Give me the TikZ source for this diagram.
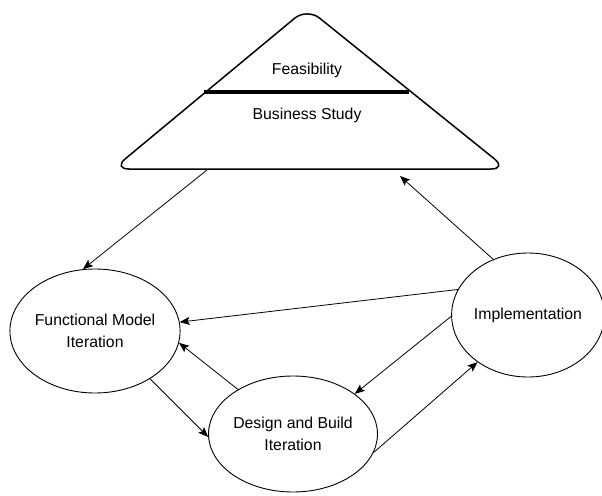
\documentclass[tikz,border=0pt]{standalone}
\usepackage{fontspec}
\setmainfont{Liberation Sans}
\usetikzlibrary{shapes.geometric,arrows.meta}
\begin{document}
\begin{tikzpicture}[x=1pt,y=-1pt,
  phase/.style={draw=black,line width=0.9pt,ellipse,inner sep=0pt,align=center,font=\fontsize{15.8}{22.5}\selectfont},
  flow/.style={draw=black,line width=0.8pt,-{Stealth[length=10pt,width=8pt,inset=2pt]}},
  lbl/.style={font=\fontsize{15.8}{18}\selectfont}]
\useasboundingbox (0,0) rectangle (602,495);
% pyramid
\draw[line width=1.5pt,rounded corners=16pt] (307,8) -- (507,169) -- (113,169) -- cycle;
\coordinate (barL) at (204,92);
\coordinate (barR) at (409,92);
\draw[line width=3.5pt] (barL) -- (barR);
\node[lbl] (feas) at (307,70) {Feasibility};
\node[lbl] (bus) at (307,115) {Business Study};
\coordinate (pyrOut) at (207,170);
\coordinate (pyrIn) at (400,176);
% phases
\node[phase,minimum width=162pt,minimum height=124pt] (fm) at (95,331) {Functional Model\\Iteration};
\node[phase,minimum width=162pt,minimum height=116pt] (db) at (293,434) {Design and Build\\Iteration};
\node[phase,minimum width=150pt,minimum height=124pt] (im) at (528,315) {Implementation};
% connectors
\draw[flow] (pyrOut) -- (fm.101.7);
\draw[flow] (im.122.5) -- (pyrIn);
\draw[flow] (im.160.5) -- (fm.6.4);
\draw[flow] (im.181.5) -- (db.33.5);
\draw[flow] (db.-13.4) -- (im.223.8);
\draw[flow] (db.141.6) -- (fm.-8.2);
\draw[flow] (fm.-41.6) -- (db.182);
\end{tikzpicture}
\end{document}
